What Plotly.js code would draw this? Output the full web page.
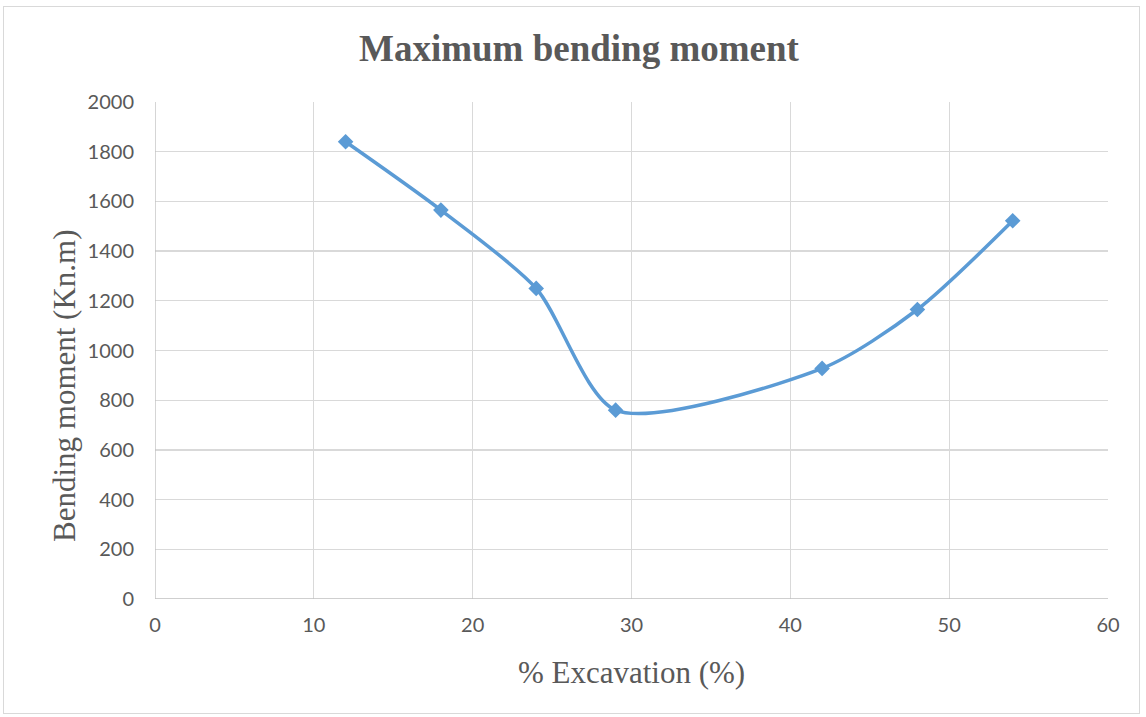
<!DOCTYPE html>
<html>
<head>
<meta charset="utf-8">
<script src="https://cdn.plot.ly/plotly-3.0.1.min.js"></script>
<style>
html,body{margin:0;padding:0;background:#fff;}
#frame{position:absolute;left:3px;top:6px;width:1137px;height:708px;border:1px solid #d9d9d9;box-sizing:border-box;}
#chart{position:absolute;left:0;top:0;width:1146px;height:717px;}
</style>
</head>
<body>
<div id="frame"></div>
<div id="chart"></div>
<script>
const excavation = [12, 18, 24, 29, 42, 48, 54];
const bendingMoment = [1840, 1565, 1250, 760, 928, 1165, 1522];
const xTicks = [0, 10, 20, 30, 40, 50, 60];
const yTicks = [0, 200, 400, 600, 800, 1000, 1200, 1400, 1600, 1800, 2000];

const trace = {
  x: excavation,
  y: bendingMoment,
  type: 'scatter',
  mode: 'lines+markers',
  line: {color: '#5B9BD5', width: 3.5, shape: 'spline', smoothing: 0.75},
  marker: {symbol: 'diamond', size: 12, color: '#5B9BD5'},
  showlegend: false
};

const layout = {
  width: 1146, height: 717,
  paper_bgcolor: 'rgba(0,0,0,0)',
  plot_bgcolor: '#fff',
  margin: {l: 155, r: 38, t: 102, b: 118},
  title: {text: '<b>Maximum bending moment</b>', x: 0.5052, xanchor: 'center', y: 0.933, yanchor: 'middle',
    font: {family: 'Liberation Serif', size: 37, color: '#595959'}},
  xaxis: {
    range: [0, 60], tickvals: xTicks, ticktext: xTicks.map(String),
    showgrid: true, gridcolor: '#d9d9d9', gridwidth: 1.3,
    zeroline: false, showline: false, ticks: '', ticklabelstandoff: 12,
    tickfont: {family: 'Lato', size: 20, color: '#595959'},
    title: {text: '% Excavation (%)', font: {family: 'Liberation Serif', size: 31, color: '#595959'}, standoff: 26}
  },
  yaxis: {
    range: [0, 2000], tickvals: yTicks, ticktext: yTicks.map(String),
    showgrid: true, gridcolor: '#d9d9d9', gridwidth: 1.3,
    zeroline: false, showline: false, ticks: '', ticklabelstandoff: 20,
    tickfont: {family: 'Lato', size: 20, color: '#595959'}
  },
  annotations: [{
    text: 'Bending moment (Kn.m)', textangle: -90, showarrow: false,
    xref: 'paper', yref: 'paper', x: -0.0944, y: 0.4286, xanchor: 'center', yanchor: 'middle',
    font: {family: 'Liberation Serif', size: 31, color: '#595959'}
  }],
  shapes: [
    {type: 'line', xref: 'x', yref: 'paper', x0: 0, x1: 0, y0: 0, y1: 1, line: {color: '#bfbfbf', width: 1.3}},
    {type: 'line', xref: 'paper', yref: 'y', x0: 0, x1: 1, y0: 0, y1: 0, line: {color: '#bfbfbf', width: 1.3}}
  ]
};

Plotly.newPlot('chart', [trace], layout, {displayModeBar: false, staticPlot: true});
</script>
</body>
</html>
